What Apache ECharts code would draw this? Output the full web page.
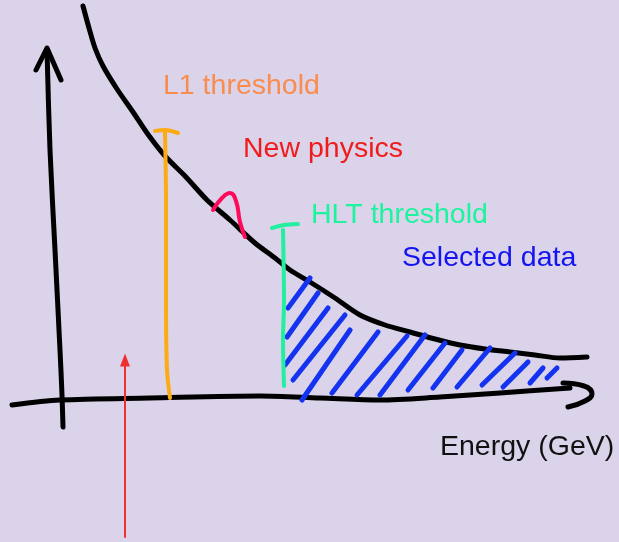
<!DOCTYPE html>
<html>
<head>
<meta charset="utf-8">
<script src="https://cdn.jsdelivr.net/npm/echarts@6/dist/echarts.min.js"></script>
<style>
html,body{margin:0;padding:0;background:#dad3e9;}
#c{width:619px;height:542px;}
</style>
</head>
<body>
<div id="c"></div>
<script>
// Sketch coordinates (x: energy direction, y: downward sketch units)
var rateCurve = [[83,6],[89,28],[95,48],[103,66],[117,89],[133,112],[147,133],[165,156],[185,176],[207,200],[230,220],[255,243],[275,258],[290,270],[310,282],[335,298],[360,315],[385,325],[410,332],[435,339],[460,345],[485,349],[510,352],[535,355],[560,358],[587,357]];
var yAxisLine = [[47,50],[50,150],[55,250],[60,350],[62,395],[63,427]];
var yArrowHead = [[36,70],[47,48],[61,80]];
var xAxisLine = [[12,405],[60,400],[150,398],[260,396],[320,398],[380,400],[440,397],[500,393],[570,388]];
var xArrowHead = [[563,383],[584,386],[592,394],[585,401],[568,407]];
var l1Line = [[165,132],[166,200],[166,300],[167,370],[170,398]];
var l1Cap = [[155,131],[165,130],[178,133]];
var hltLine = [[283,230],[284,300],[283,340],[284,386]];
var hltCap = [[272,228],[284,225],[298,224]];
var newPhysicsBump = [[213,210],[222,198],[230,193],[236,201],[240,222],[245,237]];
var hatchSegments = [
  [[310,278],[288,308]],
  [[318,293],[287,337]],
  [[328,308],[285,365]],
  [[345,315],[293,380]],
  [[350,330],[302,400]],
  [[378,332],[332,393]],
  [[407,336],[357,395]],
  [[425,335],[380,395]],
  [[445,343],[408,390]],
  [[462,350],[433,388]],
  [[490,348],[457,387]],
  [[515,353],[482,385]],
  [[528,362],[503,387]],
  [[543,368],[530,383]],
  [[557,368],[547,378]]
];
var redArrow = [[125,537],[125,360]];
var labels = [
  {text:'L1 threshold', x:163, y:86, color:'#f98c4e'},
  {text:'New physics', x:243, y:149, color:'#f01c1c'},
  {text:'HLT threshold', x:311, y:215, color:'#1ef3a0'},
  {text:'Selected data', x:402, y:258, color:'#1414f0'},
  {text:'Energy (GeV)', x:440, y:447, color:'#111111'}
];

function lineSeries(data, color, width, smooth){
  return {type:'line', data:data, symbol:'none', smooth:smooth===undefined?0.3:smooth, silent:true, animation:false,
    lineStyle:{color:color, width:width, cap:'round', join:'round'}};
}
var series = [];
series.push(lineSeries(rateCurve,'#000',5));
series.push(lineSeries(yAxisLine,'#000',5));
series.push(lineSeries(yArrowHead,'#000',5,0));
series.push(lineSeries(xAxisLine,'#000',5));
series.push(lineSeries(xArrowHead,'#000',5,0.5));
hatchSegments.forEach(function(s){ series.push(lineSeries(s,'#1433f0',5,0)); });
series.push(lineSeries(l1Line,'#fdab14',4));
series.push(lineSeries(l1Cap,'#fdab14',4));
series.push(lineSeries(hltLine,'#22f0a0',4));
series.push(lineSeries(hltCap,'#22f0a0',4));
series.push(lineSeries(newPhysicsBump,'#ff0a5a',4,0.5));
var ra = lineSeries([redArrow[0], {value:redArrow[1], symbol:'triangle', symbolSize:[10,13]}],'#f03030',2,0);
ra.showSymbol = true;
ra.itemStyle = {color:'#f03030'};
series.push(ra);

var chart = echarts.init(document.getElementById('c'), null, {renderer:'canvas'});
chart.setOption({
  backgroundColor:'#dad3e9',
  animation:false,
  grid:{left:0,right:0,top:0,bottom:0},
  xAxis:{type:'value',min:0,max:619,show:false},
  yAxis:{type:'value',min:0,max:542,inverse:true,show:false},
  series:series,
  graphic: labels.map(function(l){
    return {type:'text', x:l.x, y:l.y, silent:true,
      style:{text:l.text, fill:l.color, font:'28.5px "Liberation Sans", Arial, sans-serif', verticalAlign:'middle', align:'left'}};
  })
});
</script>
</body>
</html>
